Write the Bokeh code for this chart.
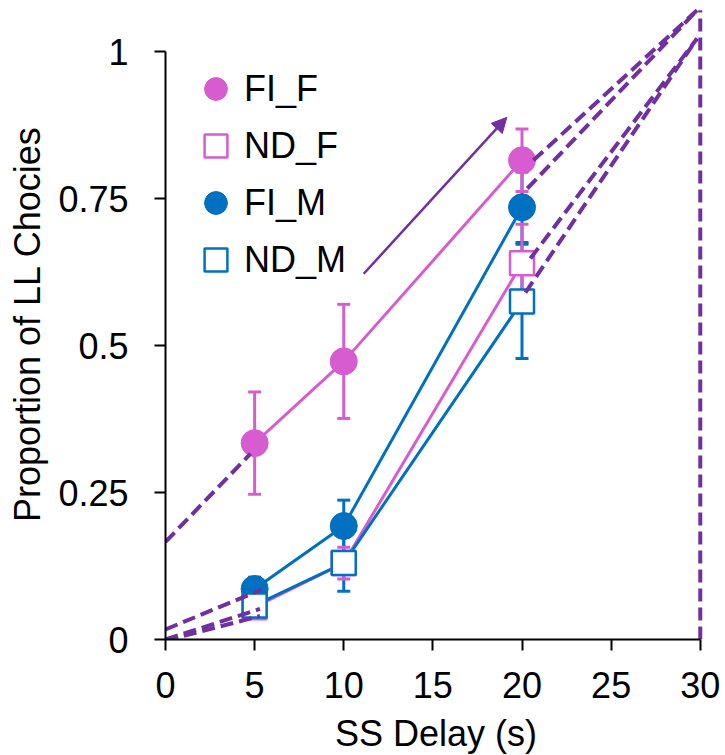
from bokeh.plotting import figure
from bokeh.models import (Range1d, FixedTicker, Whisker, TeeHead, ColumnDataSource,
                          Legend, LegendItem, Arrow, NormalHead)
from bokeh.embed import file_html
from bokeh.resources import INLINE

# ---------------- data ----------------
delays = [5, 10, 20]
fi_f = [0.334, 0.473, 0.815]
fi_f_err = [0.087, 0.097, 0.053]
nd_f = [0.055, 0.130, 0.640]
nd_f_err = [0.017, 0.027, 0.066]
fi_m = [0.086, 0.193, 0.735]
fi_m_err = [0.020, 0.044, 0.060]
nd_m = [0.058, 0.130, 0.575]
nd_m_err = [0.010, 0.048, 0.097]

x_ticks = [0, 5, 10, 15, 20, 25, 30]
y_ticks = [0, 0.25, 0.5, 0.75, 1]
y_tick_labels = ["0", "0.25", "0.5", "0.75", "1"]

# dashed extrapolation guides
guide_x0 = [0.0, 0.0, 0.0, 0.0, 20.64, 20.3, 20.47, 20.19, 30.0]
guide_y0 = [0.166, 0.017, 0.0, -0.002, 0.815, 0.767, 0.648, 0.590, 0.0]
guide_x1 = [4.77, 5.4, 5.3, 5.3, 29.82, 29.82, 29.82, 29.82, 30.0]
guide_y1 = [0.316, 0.085, 0.052, 0.040, 1.070, 1.070, 1.022, 1.022, 1.070]

# arrow
arrow_start = (11.12, 0.622)
arrow_end = (19.15, 0.888)

PINK = "#D65CCF"
BLUE = "#0070C0"
PURPLE = "#7030A0"
FONT = "Liberation Sans"
FS = "36px"

p = figure(frame_width=541, frame_height=631,
           x_range=Range1d(0, 30.35), y_range=Range1d(0, 631 / 588),
           output_backend="svg", toolbar_location=None,
           min_border_left=165, min_border_right=17, min_border_top=8, min_border_bottom=114)
p.outline_line_color = None
p.xgrid.visible = False
p.ygrid.visible = False
p.background_fill_color = "white"

# axes
for ax in (p.xaxis[0], p.yaxis[0]):
    ax.axis_line_width = 2
    ax.axis_line_color = "black"
    ax.major_tick_line_width = 2
    ax.major_tick_line_color = "black"
    ax.major_tick_out = 11
    ax.major_tick_in = 0
    ax.minor_tick_line_color = None
    ax.major_label_text_font = FONT
    ax.major_label_text_font_size = FS
    ax.major_label_text_color = "black"
    ax.axis_label_text_font = FONT
    ax.axis_label_text_font_size = FS
    ax.axis_label_text_font_style = "normal"
    ax.axis_label_text_color = "black"

p.xaxis.ticker = FixedTicker(ticks=x_ticks)
p.xaxis.bounds = (0, 30)
p.xaxis.axis_label = "SS Delay (s)"
p.xaxis.major_label_standoff = 21
p.xaxis.axis_label_standoff = 12

p.yaxis.ticker = FixedTicker(ticks=y_ticks)
p.yaxis.major_label_overrides = {t: l for t, l in zip(y_ticks, y_tick_labels)}
p.yaxis.bounds = (0, 1)
p.yaxis.axis_label = "Proportion of LL Chocies"
p.yaxis.major_label_standoff = 26
p.yaxis.axis_label_standoff = 7

# error bars
def add_err(vals, errs, color):
    src = ColumnDataSource(dict(x=delays,
                                upper=[v + e for v, e in zip(vals, errs)],
                                lower=[v - e for v, e in zip(vals, errs)]))
    w = Whisker(source=src, base="x", upper="upper", lower="lower",
                line_color=color, line_width=3, level="underlay",
                upper_head=TeeHead(size=13, line_color=color, line_width=3),
                lower_head=TeeHead(size=13, line_color=color, line_width=3))
    p.add_layout(w)

add_err(fi_m, fi_m_err, BLUE)
add_err(nd_m, nd_m_err, BLUE)
add_err(fi_f, fi_f_err, PINK)
add_err(nd_f, nd_f_err, PINK)

# lines
p.line(delays, fi_f, line_color=PINK, line_width=3)
p.line(delays, nd_f, line_color=PINK, line_width=3)
p.line(delays, fi_m, line_color=BLUE, line_width=3)
p.line(delays, nd_m, line_color=BLUE, line_width=3)

# markers
r1 = p.scatter(delays, fi_f, marker="circle", size=27, fill_color=PINK, line_color=PINK)
r2 = p.scatter(delays, nd_f, marker="square", size=24, fill_color="white", line_color=PINK, line_width=2.5)
r3 = p.scatter(delays, fi_m, marker="circle", size=27, fill_color=BLUE, line_color=BLUE)
r4 = p.scatter(delays, nd_m, marker="square", size=24, fill_color="white", line_color=BLUE, line_width=2.5)

# dashed guides
p.segment(guide_x0, guide_y0, guide_x1, guide_y1, line_color=PURPLE, line_width=4,
          line_dash="13 6")

# arrow
p.add_layout(Arrow(x_start=arrow_start[0], y_start=arrow_start[1],
                   x_end=arrow_end[0], y_end=arrow_end[1],
                   line_color=PURPLE, line_width=2.5,
                   end=NormalHead(size=15, fill_color=PURPLE, line_color=PURPLE)))

legend = Legend(items=[LegendItem(label="FI_F", renderers=[r1]),
                       LegendItem(label="ND_F", renderers=[r2]),
                       LegendItem(label="FI_M", renderers=[r3]),
                       LegendItem(label="ND_M", renderers=[r4])],
                location=(22, 351), glyph_width=57, glyph_height=57,
                spacing=0, label_standoff=0, padding=0, margin=0,
                border_line_color=None, background_fill_alpha=0,
                label_text_font=FONT, label_text_font_size=FS,
                label_text_color="black")
p.add_layout(legend)

open("out.html", "w").write(file_html(p, INLINE))
